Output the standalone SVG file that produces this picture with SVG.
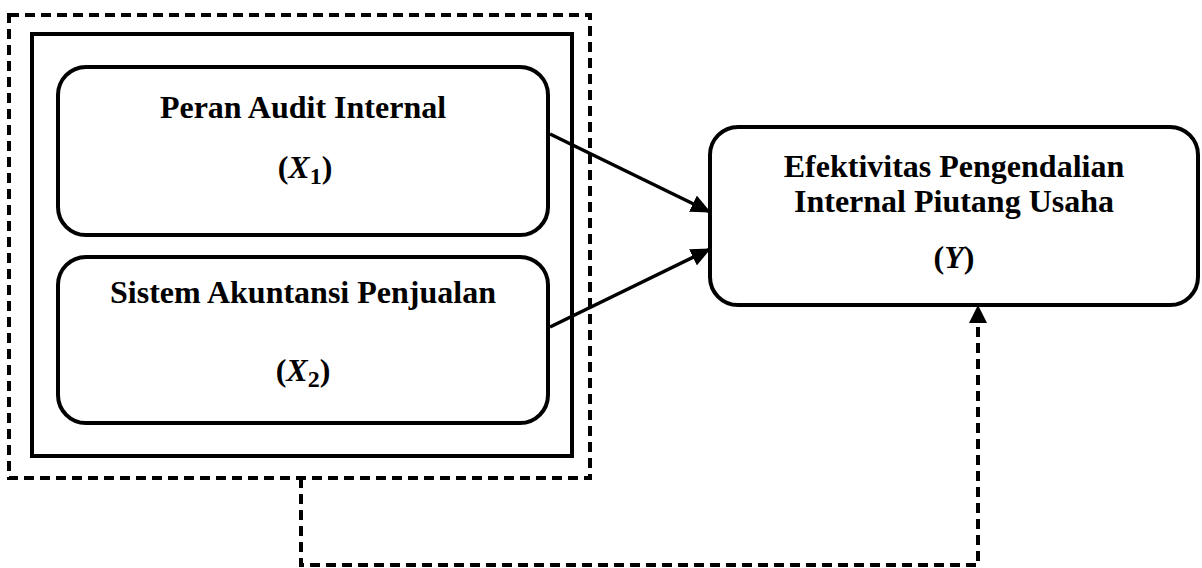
<svg xmlns="http://www.w3.org/2000/svg" width="1202" height="568" viewBox="0 0 1202 568">
<style>
.box{fill:#fff;stroke:#000;stroke-width:4}
.frame{fill:none;stroke:#000;stroke-width:4}
.dash{fill:none;stroke:#000;stroke-width:4;stroke-dasharray:10 6}
.link{fill:none;stroke:#000;stroke-width:3.5}
.t{font-family:"Liberation Serif","Times New Roman",serif;font-weight:bold;font-size:32px;fill:#000;text-anchor:middle}
.m{font-style:italic}
</style>
<defs>
<marker id="ah" markerUnits="userSpaceOnUse" markerWidth="20" markerHeight="18" refX="19" refY="9" orient="auto">
<path d="M0,0 L20,9 L0,18 Z" fill="#000"/>
</marker>
</defs>
<rect width="1202" height="568" fill="#fff"/>
<g id="group-dashed">
<rect class="dash" x="9" y="15" width="581" height="463"/>
</g>
<g id="group-inner">
<rect class="frame" x="32" y="34" width="540" height="422"/>
</g>
<g id="node-x1">
<rect class="box" x="58" y="67" width="490" height="168" rx="28" ry="28"/>
<text class="t" x="303" y="118">Peran Audit Internal</text>
<text class="t" x="305" y="178">(<tspan class="m">X</tspan><tspan font-size="24" dy="6">1</tspan><tspan dy="-6">)</tspan></text>
</g>
<g id="node-x2">
<rect class="box" x="58" y="257" width="490" height="166" rx="28" ry="28"/>
<text class="t" x="303" y="303">Sistem Akuntansi Penjualan</text>
<text class="t" x="303" y="381">(<tspan class="m">X</tspan><tspan font-size="24" dy="6">2</tspan><tspan dy="-6">)</tspan></text>
</g>
<g id="node-y">
<rect class="box" x="710" y="127" width="488" height="178" rx="28" ry="28"/>
<text class="t" x="954" y="177">Efektivitas Pengendalian</text>
<text class="t" x="954" y="212">Internal Piutang Usaha</text>
<text class="t" x="954" y="268">(<tspan class="m">Y</tspan>)</text>
</g>
<g id="connectors">
<line class="link" x1="550" y1="134" x2="710" y2="212" marker-end="url(#ah)"/>
<line class="link" x1="550" y1="327" x2="710" y2="249" marker-end="url(#ah)"/>
<path class="dash" d="M301,478 L301,565 L978,565 L978,312" />
<path d="M978,305 L969,323 L987,323 Z" fill="#000"/>
</g>
</svg>
